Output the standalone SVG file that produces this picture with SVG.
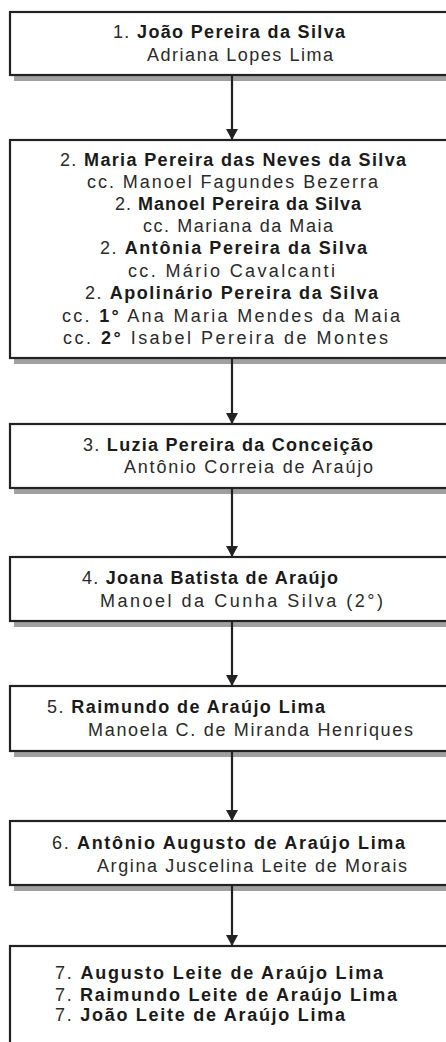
<svg xmlns="http://www.w3.org/2000/svg" width="446" height="1042" viewBox="0 0 446 1042">
<style>
.shadow{fill:#a0a0a0;}
.box{fill:#fff;stroke:#222;stroke-width:2.2;}
text{font-family:"Liberation Sans",Arial,sans-serif;font-size:18px;fill:#2a2a2a;}
.b{font-weight:bold;fill:#1a1a1a;}
.conn{stroke:#222;stroke-width:2.2;fill:none;marker-end:url(#ah);}
</style>
<defs>
<marker id="ah" markerUnits="userSpaceOnUse" markerWidth="12" markerHeight="12" refX="11" refY="6" orient="auto">
<path d="M0,0 L11,6 L0,12 Z" fill="#222"/>
</marker>
</defs>
<rect width="446" height="1042" fill="#fff"/>

<g id="node1">
<rect class="shadow" x="14" y="17" width="460" height="64"/>
<rect class="box" x="10" y="12" width="460" height="63"/>
<text x="113" y="38" textLength="232" lengthAdjust="spacing">1. <tspan class="b">João Pereira da Silva</tspan></text>
<text x="147" y="61" textLength="186" lengthAdjust="spacing">Adriana Lopes Lima</text>
</g>

<g id="node2">
<rect class="shadow" x="14" y="145" width="460" height="219"/>
<rect class="box" x="10" y="140" width="460" height="218"/>
<text x="60" y="165.5" textLength="346" lengthAdjust="spacing">2. <tspan class="b">Maria Pereira das Neves da Silva</tspan></text>
<text x="87" y="187.5" textLength="291" lengthAdjust="spacing">cc. Manoel Fagundes Bezerra</text>
<text x="115" y="210" textLength="246" lengthAdjust="spacing">2. <tspan class="b">Manoel Pereira da Silva</tspan></text>
<text x="143" y="232" textLength="190" lengthAdjust="spacing">cc. Mariana da Maia</text>
<text x="100" y="254" textLength="267" lengthAdjust="spacing">2. <tspan class="b">Antônia Pereira da Silva</tspan></text>
<text x="128" y="276.5" textLength="207" lengthAdjust="spacing">cc. Mário Cavalcanti</text>
<text x="85" y="299" textLength="293" lengthAdjust="spacing">2. <tspan class="b">Apolinário Pereira da Silva</tspan></text>
<text x="62" y="322" textLength="338" lengthAdjust="spacing">cc. <tspan class="b">1°</tspan> Ana Maria Mendes da Maia</text>
<text x="63" y="344" textLength="325" lengthAdjust="spacing">cc. <tspan class="b">2°</tspan> Isabel Pereira de Montes</text>
</g>

<g id="node3">
<rect class="shadow" x="14" y="429" width="460" height="65"/>
<rect class="box" x="10" y="424" width="460" height="64"/>
<text x="83" y="450.5" textLength="290" lengthAdjust="spacing">3. <tspan class="b">Luzia Pereira da Conceição</tspan></text>
<text x="124" y="473" textLength="249" lengthAdjust="spacing">Antônio Correia de Araújo</text>
</g>

<g id="node4">
<rect class="shadow" x="14" y="562" width="460" height="65"/>
<rect class="box" x="10" y="557" width="460" height="64"/>
<text x="82" y="584" textLength="256" lengthAdjust="spacing">4. <tspan class="b">Joana Batista de Araújo</tspan></text>
<text x="100" y="606.5" textLength="283" lengthAdjust="spacing">Manoel da Cunha Silva (2°)</text>
</g>

<g id="node5">
<rect class="shadow" x="14" y="691" width="460" height="66"/>
<rect class="box" x="10" y="686" width="460" height="65"/>
<text x="47" y="713" textLength="278" lengthAdjust="spacing">5. <tspan class="b">Raimundo de Araújo Lima</tspan></text>
<text x="88" y="736" textLength="325" lengthAdjust="spacing">Manoela C. de Miranda Henriques</text>
</g>

<g id="node6">
<rect class="shadow" x="14" y="826" width="460" height="65"/>
<rect class="box" x="10" y="821" width="460" height="64"/>
<text x="52" y="849" textLength="353" lengthAdjust="spacing">6. <tspan class="b">Antônio Augusto de Araújo Lima</tspan></text>
<text x="97" y="872" textLength="310" lengthAdjust="spacing">Argina Juscelina Leite de Morais</text>
</g>

<g id="node7">
<rect class="box" x="10" y="946" width="460" height="130"/>
<text x="55" y="979" textLength="328" lengthAdjust="spacing">7. <tspan class="b">Augusto Leite de Araújo Lima</tspan></text>
<text x="55" y="1000.5" textLength="342" lengthAdjust="spacing">7. <tspan class="b">Raimundo Leite de Araújo Lima</tspan></text>
<text x="55" y="1021" textLength="290" lengthAdjust="spacing">7. <tspan class="b">João Leite de Araújo Lima</tspan></text>
</g>

<g id="connectors">
<line class="conn" x1="232" y1="76" x2="232" y2="140"/>
<line class="conn" x1="232" y1="359" x2="232" y2="424"/>
<line class="conn" x1="232" y1="489" x2="232" y2="557"/>
<line class="conn" x1="232" y1="622" x2="232" y2="686"/>
<line class="conn" x1="232" y1="752" x2="232" y2="821"/>
<line class="conn" x1="232" y1="886" x2="232" y2="946"/>
</g>
</svg>
